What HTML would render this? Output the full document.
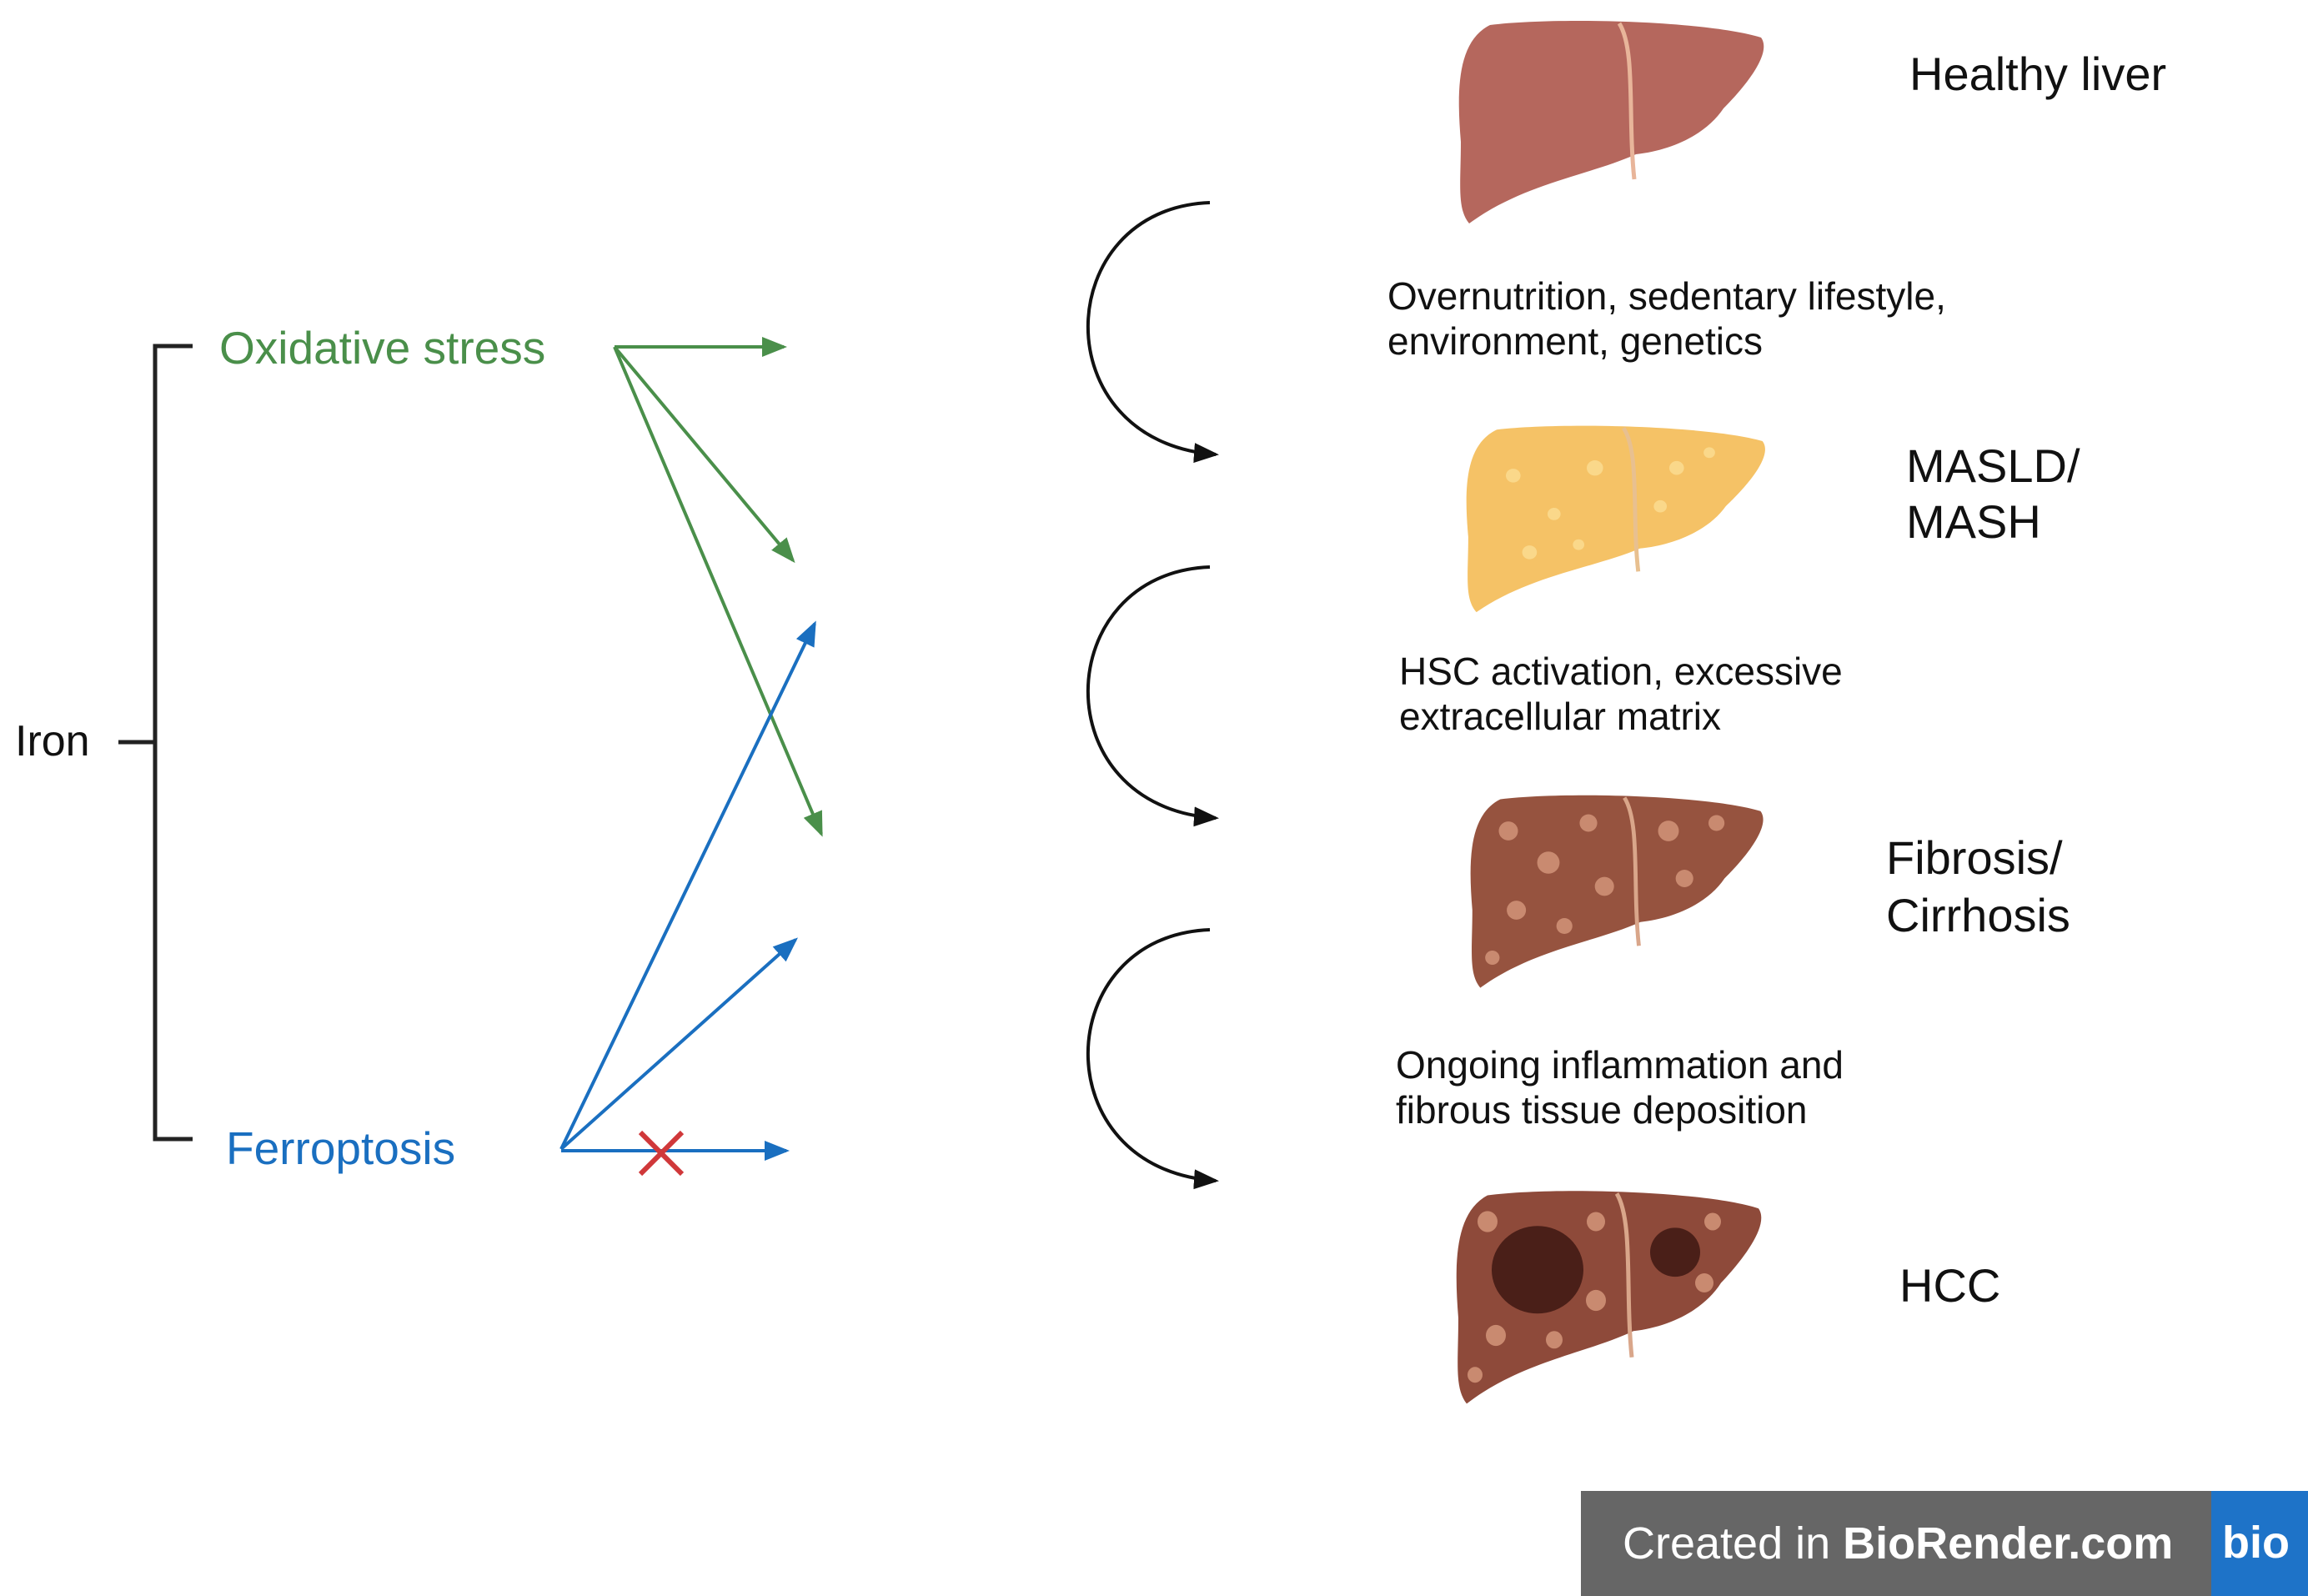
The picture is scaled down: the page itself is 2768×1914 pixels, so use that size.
<!DOCTYPE html>
<html><head><meta charset="utf-8"><style>
html,body{margin:0;padding:0;background:#fff}
svg{display:block}
text{font-family:"Liberation Sans",sans-serif}
</style></head><body>
<svg width="2768" height="1914" viewBox="0 0 2768 1914" xmlns="http://www.w3.org/2000/svg">
<defs>
<marker id="ag" markerWidth="30" markerHeight="24" refX="26" refY="12" orient="auto" markerUnits="userSpaceOnUse" viewBox="0 0 30 24"><path d="M0,0 L30,12 L0,24 Z" fill="#4a8f4a"/></marker>
<marker id="ab" markerWidth="30" markerHeight="24" refX="26" refY="12" orient="auto" markerUnits="userSpaceOnUse" viewBox="0 0 30 24"><path d="M0,0 L30,12 L0,24 Z" fill="#1a6fc0"/></marker>
<marker id="ak" markerWidth="30" markerHeight="24" refX="26" refY="12" orient="auto" markerUnits="userSpaceOnUse" viewBox="0 0 30 24"><path d="M0,0 L30,12 L0,24 Z" fill="#111"/></marker>
<path id="liver" d="M40,10 C120,0 300,5 365,25 C380,45 340,90 320,110 C300,140 260,160 215,165 C160,190 80,200 15,248 C0,230 5,200 5,150 C0,90 0,30 40,10 Z"/>
</defs>
<style>
.g{stroke:#4a8f4a;stroke-width:4;fill:none}
.b{stroke:#1a6fc0;stroke-width:4;fill:none}
.k{stroke:#111;stroke-width:4;fill:none}
</style>
<path d="M231,415 H186 V1366 H231" stroke="#222" stroke-width="5" fill="none"/>
<line x1="142" y1="890" x2="186" y2="890" stroke="#222" stroke-width="5"/>
<text x="18" y="906" font-size="52" fill="#111">Iron</text>
<text x="263" y="436" font-size="55" fill="#4a8f4a">Oxidative stress</text>
<text x="271" y="1396" font-size="55" fill="#1a6fc0">Ferroptosis</text>
<line x1="737" y1="416" x2="940" y2="416" class="g" marker-end="url(#ag)"/>
<line x1="737" y1="416" x2="951" y2="672" class="g" marker-end="url(#ag)"/>
<line x1="737" y1="416" x2="985" y2="1000" class="g" marker-end="url(#ag)"/>
<line x1="673" y1="1378" x2="977" y2="748" class="b" marker-end="url(#ab)"/>
<line x1="673" y1="1378" x2="954" y2="1127" class="b" marker-end="url(#ab)"/>
<line x1="673" y1="1380" x2="943" y2="1380" class="b" marker-end="url(#ab)"/>
<path d="M768,1358 L818,1408 M818,1358 L768,1408" stroke="#d0383a" stroke-width="6"/>
<path d="M1451,243 C1260,250 1250,530 1458,545" class="k" marker-end="url(#ak)"/>
<path d="M1451,680 C1260,687 1250,968 1458,981" class="k" marker-end="url(#ak)"/>
<path d="M1451,1115 C1260,1122 1250,1402 1458,1416" class="k" marker-end="url(#ak)"/>
<g transform="translate(1747,20)"><use href="#liver" fill="#b5675d"/><path d="M195,8 C215,40 205,120 213,195" stroke="#e8b59a" stroke-width="5" fill="none"/></g>
<g transform="translate(1756,506) scale(0.98,0.92)"><use href="#liver" fill="#f5c266"/><path d="M195,8 C215,40 205,120 213,195" stroke="#e8c090" stroke-width="5" fill="none"/>
<g fill="#fad88a"><circle cx="60" cy="70" r="9"/><circle cx="110" cy="120" r="8"/><circle cx="160" cy="60" r="10"/><circle cx="260" cy="60" r="9"/><circle cx="300" cy="40" r="7"/><circle cx="80" cy="170" r="9"/><circle cx="140" cy="160" r="7"/><circle cx="240" cy="110" r="8"/></g></g>
<g transform="translate(1761,949) scale(0.96,0.95)"><use href="#liver" fill="#96533f"/><path d="M195,8 C215,40 205,120 213,195" stroke="#d9a68a" stroke-width="5" fill="none"/>
<g fill="#c98a70"><circle cx="50" cy="50" r="12"/><circle cx="100" cy="90" r="14"/><circle cx="150" cy="40" r="11"/><circle cx="170" cy="120" r="12"/><circle cx="250" cy="50" r="13"/><circle cx="310" cy="40" r="10"/><circle cx="270" cy="110" r="11"/><circle cx="60" cy="150" r="12"/><circle cx="120" cy="170" r="10"/><circle cx="30" cy="210" r="9"/></g></g>
<g transform="translate(1744,1423) scale(1.0,1.05)"><use href="#liver" fill="#8e4a3a"/><path d="M195,8 C215,40 205,120 213,195" stroke="#d9a68a" stroke-width="5" fill="none"/>
<ellipse cx="100" cy="95" rx="55" ry="50" fill="#4a1f18"/><ellipse cx="265" cy="75" rx="30" ry="28" fill="#4a1f18"/>
<g fill="#c98a70"><circle cx="40" cy="40" r="12"/><circle cx="170" cy="40" r="11"/><circle cx="170" cy="130" r="12"/><circle cx="310" cy="40" r="10"/><circle cx="300" cy="110" r="11"/><circle cx="50" cy="170" r="12"/><circle cx="120" cy="175" r="10"/><circle cx="25" cy="215" r="9"/></g></g>
<g font-size="56" fill="#111">
<text x="2290" y="108">Healthy liver</text>
<text x="2286" y="578">MASLD/</text>
<text x="2286" y="645">MASH</text>
<text x="2262" y="1048">Fibrosis/</text>
<text x="2262" y="1117">Cirrhosis</text>
<text x="2278" y="1561">HCC</text>
</g>
<g font-size="46" fill="#111">
<text x="1664" y="371">Overnutrition, sedentary lifestyle,</text>
<text x="1664" y="425">environment, genetics</text>
<text x="1678" y="821">HSC activation, excessive</text>
<text x="1678" y="875">extracellular matrix</text>
<text x="1674" y="1293">Ongoing inflammation and</text>
<text x="1674" y="1347">fibrous tissue deposition</text>
</g>
<rect x="1896" y="1788" width="872" height="126" fill="#666"/>
<rect x="2652" y="1788" width="116" height="126" fill="#1e73c8"/>
<text x="1946" y="1869" font-size="54" fill="#fff">Created in <tspan font-weight="bold">BioRender.com</tspan></text>
<text x="2665" y="1868" font-size="54" font-weight="bold" fill="#fff">bio</text>
</svg>
</body></html>
